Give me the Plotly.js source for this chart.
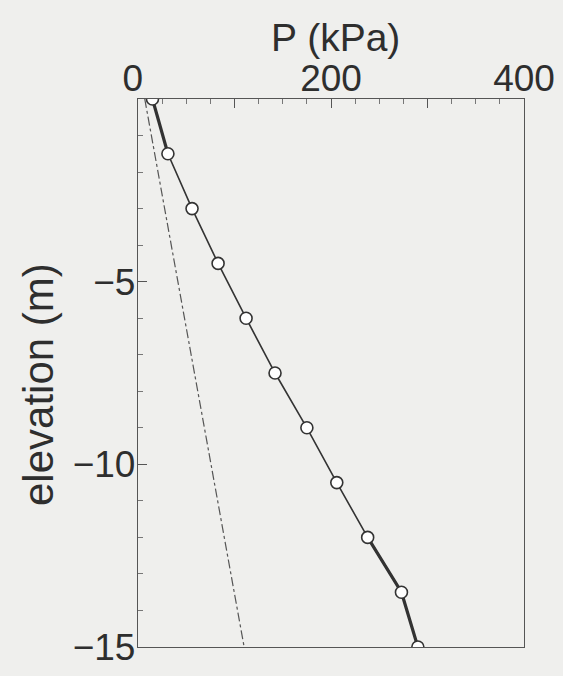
<!DOCTYPE html>
<html>
<head>
<meta charset="utf-8">
<script src="https://cdn.plot.ly/plotly-3.0.1.min.js"></script>
<style>html,body{margin:0;padding:0;background:#efefed;}#chart{width:563px;height:676px;}</style>
</head>
<body>
<div id="chart"></div>
<script>
// Measured pressure profile
const elevation = [0, -1.5, -3, -4.5, -6, -7.5, -9, -10.5, -12, -13.5, -15];
const pressure = [15, 31, 56, 83, 112, 142, 175, 206, 238, 273, 290];
// Thick segments (top and bottom of profile)
const thickTopIdx = [0, 1];
const thickBottomIdx = [8, 9, 10];
// Dash-dot reference line
const refElevation = [0, -15];
const refPressure = [7, 110];
// Axis ticks
const xTickVals = [0, 100, 200, 300, 400];
const xTickText = ['0 ', '', '200', '', '400'];
const yTickVals = [-15, -10, -5];
const yTickText = ['\u221215', '\u221210', '\u22125'];

const ink = '#333333';
const pick = (arr, idx) => idx.map(i => arr[i]);

const traces = [
  {x: refPressure, y: refElevation, mode: 'lines', line: {color: '#555', width: 1.2, dash: 'dashdot'}, hoverinfo: 'skip'},
  {x: pick(pressure, thickTopIdx), y: pick(elevation, thickTopIdx), mode: 'lines', line: {color: ink, width: 3.2}, hoverinfo: 'skip'},
  {x: pick(pressure, thickBottomIdx), y: pick(elevation, thickBottomIdx), mode: 'lines', line: {color: ink, width: 3.2}, hoverinfo: 'skip'},
  {x: pressure, y: elevation, mode: 'lines+markers', line: {color: ink, width: 1.6},
   marker: {symbol: 'circle', size: 12, color: '#ffffff', line: {color: ink, width: 1.6}}}
];

const font = {family: 'Liberation Sans, Arial, sans-serif', color: '#2e2e2e', size: 36};
const plotW = 563 - 138 - 39, plotH = 676 - 99 - 29;

const layout = {
  width: 563, height: 676,
  paper_bgcolor: '#efefed', plot_bgcolor: '#efefed',
  showlegend: false,
  margin: {l: 138, r: 39, t: 99, b: 29},
  font: font,
  xaxis: {
    side: 'top', range: [0, 400], showgrid: false, zeroline: false,
    tickmode: 'array', tickvals: xTickVals, ticktext: xTickText,
    ticks: 'inside', ticklen: 9, tickwidth: 1, tickcolor: '#555',
    minor: {dtick: 25, ticks: 'inside', ticklen: 5, tickcolor: '#777', showgrid: false},
    showline: true, linecolor: '#555', linewidth: 1.2, mirror: true,
    tickfont: {size: 37}, ticklabelstandoff: -8
  },
  yaxis: {
    range: [-15, 0], showgrid: false, zeroline: false,
    tickmode: 'array', tickvals: yTickVals, ticktext: yTickText,
    ticks: 'inside', ticklen: 9, tickwidth: 1, tickcolor: '#555',
    minor: {dtick: 1, ticks: 'inside', ticklen: 5, tickcolor: '#777', showgrid: false},
    showline: true, linecolor: '#555', linewidth: 1.2, mirror: true,
    tickfont: {size: 37}, ticklabelstandoff: -6
  },
  annotations: [
    {text: 'P (kPa)', xref: 'paper', yref: 'paper',
     x: (335 - 138) / plotW, y: (676 - 29 - 37) / plotH,
     xanchor: 'center', yanchor: 'middle', showarrow: false, borderpad: 0, font: {size: 39}},
    {text: 'elevation (m)', textangle: -90, xref: 'paper', yref: 'paper',
     x: (38 - 138) / plotW, y: (676 - 29 - 385) / plotH,
     xanchor: 'center', yanchor: 'middle', showarrow: false, font: {size: 42}}
  ]
};

Plotly.newPlot('chart', traces, layout, {displayModeBar: false, staticPlot: true});
</script>
</body>
</html>
